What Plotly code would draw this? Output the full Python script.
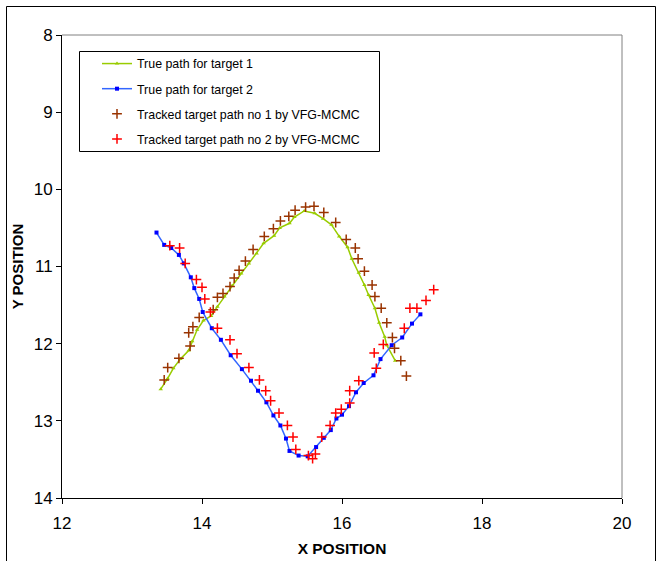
import plotly.graph_objects as go

# True path for target 1 (green)
t1_x = [13.41, 13.51, 13.59, 13.69, 13.81, 13.86, 13.93, 14.02, 14.13, 14.22, 14.32, 14.43,
        14.56, 14.67, 14.78, 14.88, 15.03, 15.11, 15.25, 15.32, 15.46, 15.61, 15.73, 15.85,
        15.96, 16.08, 16.14, 16.24, 16.32, 16.38, 16.47, 16.53, 16.61, 16.64, 16.76]
t1_y = [12.59, 12.45, 12.32, 12.20, 12.09, 11.97, 11.82, 11.70, 11.64, 11.52, 11.39, 11.25,
        11.09, 10.96, 10.83, 10.70, 10.60, 10.50, 10.44, 10.36, 10.28, 10.31, 10.38, 10.46,
        10.61, 10.75, 10.90, 11.08, 11.24, 11.37, 11.54, 11.73, 11.91, 12.02, 12.22]

# True path for target 2 (blue)
t2_x = [13.35, 13.46, 13.56, 13.67, 13.74, 13.84, 13.89, 13.96, 14.01, 14.14, 14.27, 14.41,
        14.57, 14.70, 14.80, 14.92, 15.02, 15.12, 15.20, 15.25, 15.38, 15.51, 15.63, 15.74,
        15.84, 15.92, 16.00, 16.10, 16.20, 16.31, 16.45, 16.55, 16.71, 16.86, 17.00, 17.12]
t2_y = [10.56, 10.72, 10.76, 10.85, 10.96, 11.14, 11.28, 11.42, 11.59, 11.80, 11.95, 12.15,
        12.33, 12.48, 12.61, 12.76, 12.93, 13.06, 13.23, 13.39, 13.45, 13.46, 13.34, 13.22,
        13.12, 12.97, 12.92, 12.81, 12.63, 12.51, 12.41, 12.20, 12.02, 11.92, 11.74, 11.62]

# Tracked target path no 1 (brown crosses)
k1_x = [13.46, 13.51, 13.67, 13.83, 13.81, 13.87, 13.96, 14.16, 14.22, 14.30, 14.40, 14.46,
        14.53, 14.62, 14.73, 14.89, 15.02, 15.12, 15.24, 15.33, 15.48, 15.60, 15.74, 15.91,
        16.06, 16.19, 16.23, 16.32, 16.43, 16.47, 16.56, 16.64, 16.72, 16.75, 16.84, 16.92]
k1_y = [12.47, 12.31, 12.19, 12.03, 11.86, 11.78, 11.66, 11.56, 11.40, 11.35, 11.26, 11.15,
        11.05, 10.93, 10.78, 10.61, 10.51, 10.41, 10.35, 10.27, 10.23, 10.22, 10.30, 10.43,
        10.65, 10.76, 10.90, 11.06, 11.24, 11.39, 11.54, 11.73, 11.92, 12.06, 12.22, 12.42]

# Tracked target path no 2 (red crosses)
k2_x = [13.54, 13.68, 13.76, 13.92, 14.00, 14.04, 14.12, 14.22, 14.40, 14.50, 14.67, 14.82,
        14.91, 14.98, 15.10, 15.22, 15.30, 15.34, 15.52, 15.58, 15.62, 15.71, 15.83, 15.91,
        15.99, 16.11, 16.11, 16.24, 16.49, 16.46, 16.59, 16.89, 16.97, 17.07, 17.20, 17.31]
k2_y = [10.73, 10.76, 10.96, 11.17, 11.27, 11.42, 11.59, 11.80, 11.95, 12.13, 12.31, 12.47,
        12.61, 12.74, 12.90, 13.06, 13.21, 13.37, 13.45, 13.49, 13.43, 13.21, 13.06, 12.90,
        12.85, 12.77, 12.61, 12.48, 12.32, 12.12, 12.01, 11.80, 11.54, 11.54, 11.44, 11.30]

x_ticks = [12, 14, 16, 18, 20]
y_ticks = [8, 9, 10, 11, 12, 13, 14]

FONT = "Liberation Sans, Arial, sans-serif"

fig = go.Figure()
fig.add_trace(go.Scatter(x=t1_x, y=t1_y, mode="lines+markers", name="True path for target 1",
                         line=dict(color="#99CC00", width=1.5),
                         marker=dict(symbol="triangle-up", size=4, color="#99CC00"),
                         legendgroup="a"))
fig.add_trace(go.Scatter(x=t2_x, y=t2_y, mode="lines+markers", name="True path for target 2",
                         line=dict(color="#3366FF", width=1.5),
                         marker=dict(symbol="square", size=4, color="#0000FF"),
                         legendgroup="b"))
fig.add_trace(go.Scatter(x=k1_x, y=k1_y, mode="markers", name="Tracked target path no 1 by VFG-MCMC",
                         marker=dict(symbol="cross-thin", size=7, color="#993300",
                                     line=dict(color="#993300", width=1.5)),
                         legendgroup="c"))
fig.add_trace(go.Scatter(x=k2_x, y=k2_y, mode="markers", name="Tracked target path no 2 by VFG-MCMC",
                         marker=dict(symbol="cross-thin", size=7, color="#FF0000",
                                     line=dict(color="#FF0000", width=1.5)),
                         legendgroup="d"))

L, R, T, B = 62, 40, 35, 63
W, H = 662, 561
pw, ph = W - L - R, H - T - B

def px_to_paper_x(p):
    return (p - L) / pw

def px_to_paper_y(p):
    return (H - B - p) / ph

shapes = [
    # gray top and right borders of plot area
    dict(type="line", xref="paper", yref="paper", x0=0, x1=1, y0=1, y1=1,
         line=dict(color="#808080", width=1)),
    dict(type="line", xref="paper", yref="paper", x0=1, x1=1, y0=0, y1=1,
         line=dict(color="#808080", width=1)),
    # outer chart border
    dict(type="rect", xref="paper", yref="paper",
         x0=px_to_paper_x(6.5), x1=px_to_paper_x(655.5),
         y0=px_to_paper_y(563), y1=px_to_paper_y(6.5),
         line=dict(color="black", width=1), fillcolor="rgba(0,0,0,0)", layer="below"),
    # legend frame
    dict(type="rect", xref="paper", yref="paper",
         x0=px_to_paper_x(79.5), x1=px_to_paper_x(379.5),
         y0=px_to_paper_y(151.5), y1=px_to_paper_y(51.5),
         line=dict(color="black", width=1), fillcolor="white", layer="below"),
]

fig.update_layout(
    width=W, height=H,
    margin=dict(l=L, r=R, t=T, b=B, autoexpand=False),
    paper_bgcolor="white", plot_bgcolor="white",
    font=dict(family=FONT, color="black"),
    shapes=shapes,
    showlegend=True,
    legend=dict(x=px_to_paper_x(97), y=px_to_paper_y(49), xanchor="left", yanchor="top",
                bgcolor="rgba(0,0,0,0)", borderwidth=0,
                font=dict(family=FONT, size=12.4, color="black"),
                traceorder="grouped", tracegroupgap=6),
    xaxis=dict(range=[12, 20], tickvals=x_ticks, ticktext=[str(v) for v in x_ticks],
               showgrid=False, zeroline=False, showline=True, linecolor="black", linewidth=1,
               ticks="outside", ticklen=5, tickcolor="black", ticklabelstandoff=5,
               tickfont=dict(family=FONT, size=17, color="black"),
               title=dict(text="<b>X POSITION</b>", font=dict(family=FONT, size=15.5, color="black"),
                          standoff=10)),
    yaxis=dict(range=[14, 8], tickvals=y_ticks, ticktext=[str(v) for v in y_ticks],
               showgrid=False, zeroline=False, showline=True, linecolor="black", linewidth=1,
               ticks="outside", ticklen=5, tickcolor="black",
               tickfont=dict(family=FONT, size=17, color="black"),
               title=dict(text="<b>Y POSITION</b>", font=dict(family=FONT, size=15, color="black"),
                          standoff=6)),
)

fig.write_html("out.html")
